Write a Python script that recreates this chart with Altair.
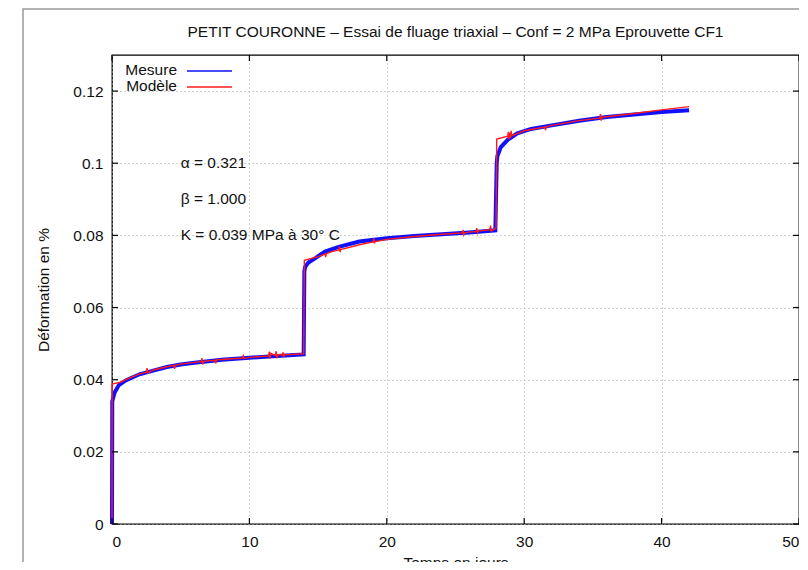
import altair as alt
import pandas as pd

# ---------------- data ----------------
mesure_t = [0, 0.02, 0.2, 0.5, 1, 2, 3, 4, 5, 6, 8, 10, 12, 13.95,
            14.0, 14.05, 14.3, 14.8, 15.5, 16.5, 18, 20, 22, 24, 26, 27.9,
            28.0, 28.05, 28.3, 28.8, 29.5, 30.5, 32, 34, 36, 38, 40, 42]
mesure_v = [0, 0.0340, 0.0365, 0.0385, 0.0398, 0.0415, 0.0425, 0.0435, 0.0442, 0.0447, 0.0455, 0.0461, 0.0466, 0.0470,
            0.0700, 0.0712, 0.0725, 0.0737, 0.0755, 0.0768, 0.0783, 0.0792, 0.0798, 0.0803, 0.0808, 0.0814,
            0.1000, 0.1020, 0.1045, 0.1065, 0.1083, 0.1095, 0.1105, 0.1118, 0.1128, 0.1135, 0.1142, 0.1147]

modele_t = [0, 0.01, 0.6, 1.0, 2.0, 2.5, 2.55, 2.6, 3.0, 4.0, 4.5, 4.55, 4.6, 5.0, 6.0,
            6.5, 6.55, 6.6, 6.65, 7.5, 7.55, 7.6, 8.0, 9.5, 9.55, 9.6, 10.0,
            11.4, 11.45, 11.5, 11.55, 11.9, 11.95, 12.0, 12.05, 12.4, 12.45, 12.5, 12.55, 13.95,
            14.0, 15.0, 15.5, 15.55, 15.6, 16.0, 16.5, 16.55, 16.6, 16.65, 18.0,
            19.0, 19.05, 19.1, 19.15, 20.0, 22.0, 24.0, 25.5, 25.55, 25.6, 25.65, 26.0,
            26.5, 26.55, 26.6, 26.65, 27.5, 27.55, 27.6, 27.95,
            28.0, 28.8, 28.85, 28.9, 28.95, 29.0, 29.05, 29.1, 30.0, 31.5, 31.55, 31.6, 32.0,
            34.0, 35.5, 35.55, 35.6, 35.65, 36.0, 38.0, 40.0, 42.0]
modele_v = [0, 0.0388, 0.0393, 0.0400, 0.0416, 0.0421, 0.0432, 0.0419, 0.0427, 0.0436, 0.0440, 0.0430, 0.0440, 0.0443, 0.0448,
            0.0450, 0.0460, 0.0442, 0.0451, 0.0454, 0.0445, 0.0455, 0.0456, 0.0460, 0.0466, 0.0459, 0.0462,
            0.0466, 0.0478, 0.0458, 0.0473, 0.0467, 0.0479, 0.0459, 0.0470, 0.0468, 0.0476, 0.0463, 0.0469, 0.0472,
            0.0731, 0.0741, 0.0748, 0.0740, 0.0749, 0.0755, 0.0760, 0.0769, 0.0754, 0.0761, 0.0774,
            0.0782, 0.0792, 0.0778, 0.0783, 0.0789, 0.0797, 0.0803, 0.0807, 0.0815, 0.0802, 0.0807, 0.0809,
            0.0811, 0.0820, 0.0807, 0.0812, 0.0816, 0.0827, 0.0812, 0.0820,
            0.1067, 0.1075, 0.1087, 0.1066, 0.1084, 0.1070, 0.1090, 0.1076, 0.1090, 0.1100, 0.1092, 0.1101, 0.1105,
            0.1118, 0.1125, 0.1136, 0.1118, 0.1127, 0.1129, 0.1138, 0.1148, 0.1157]

x_ticks = [0, 10, 20, 30, 40, 50]
y_ticks = [0, 0.02, 0.04, 0.06, 0.08, 0.1, 0.12]

ann_x = [5, 5, 5]
ann_y = [0.1, 0.09, 0.08]
ann_text = ["α = 0.321", "β = 1.000", "K = 0.039 MPa à 30° C"]

legend_labels = ["Mesure", "Modèle"]
title_text = "PETIT COURONNE – Essai de fluage triaxial – Conf = 2 MPa Eprouvette CF1"

FONT = "Liberation Sans"
FS = 15.5
W, H = 687, 469

df_m = pd.DataFrame({"t": mesure_t, "v": mesure_v})
df_r = pd.DataFrame({"t": modele_t, "v": modele_v})
df_ann = pd.DataFrame({"t": ann_x, "v": ann_y, "txt": ann_text})
df_xt = pd.DataFrame({"t": x_ticks})
df_yt = pd.DataFrame({"v": y_ticks})
one = pd.DataFrame({"a": [0]})

xs = alt.Scale(domain=[0, 50], nice=False, zero=False)
ys = alt.Scale(domain=[0, 0.13], nice=False, zero=False)

X = alt.X("t:Q", scale=xs, axis=alt.Axis(values=x_ticks, title="Temps en jours", grid=True,
                                         ticks=False, domain=False, labelPadding=10,
                                         titlePadding=6, format="~g"))
Y = alt.Y("v:Q", scale=ys, axis=alt.Axis(values=y_ticks, title="Déformation en %", grid=True,
                                         ticks=False, domain=False, labelPadding=9,
                                         titlePadding=21, format="~g"))

mesure = alt.Chart(df_m).mark_line(color="#1010ff", strokeWidth=4).encode(x=X, y=Y)
modele = alt.Chart(df_r).mark_line(color="#ff1a1a", strokeWidth=1.4).encode(
    x=alt.X("t:Q", scale=xs), y=alt.Y("v:Q", scale=ys))

ann = alt.Chart(df_ann).mark_text(align="left", baseline="middle", font=FONT, fontSize=FS,
                                  color="#111").encode(
    x=alt.X("t:Q", scale=xs), y=alt.Y("v:Q", scale=ys), text="txt:N")

# inward tick marks (gnuplot style, mirrored)
xt_b = alt.Chart(df_xt).mark_rule(color="#000", strokeWidth=1.2).encode(
    x=alt.X("t:Q", scale=xs), y=alt.value(H), y2=alt.value(H - 6))
xt_t = alt.Chart(df_xt).mark_rule(color="#000", strokeWidth=1.2).encode(
    x=alt.X("t:Q", scale=xs), y=alt.value(0), y2=alt.value(6))
yt_l = alt.Chart(df_yt).mark_rule(color="#000", strokeWidth=1.2).encode(
    y=alt.Y("v:Q", scale=ys), x=alt.value(0), x2=alt.value(6))
yt_r = alt.Chart(df_yt).mark_rule(color="#000", strokeWidth=1.2).encode(
    y=alt.Y("v:Q", scale=ys), x=alt.value(W), x2=alt.value(W - 6))

# custom gnuplot-style key
leg1 = alt.Chart(one).mark_text(text=legend_labels[0], align="right", baseline="middle",
                                font=FONT, fontSize=FS, color="#111").encode(
    x=alt.value(65), y=alt.value(15))
leg2 = alt.Chart(one).mark_text(text=legend_labels[1], align="right", baseline="middle",
                                font=FONT, fontSize=FS, color="#111").encode(
    x=alt.value(65), y=alt.value(31))
legl1 = alt.Chart(one).mark_rule(color="#1010ff", strokeWidth=1.4).encode(
    x=alt.value(75), x2=alt.value(120), y=alt.value(16))
legl2 = alt.Chart(one).mark_rule(color="#ff1a1a", strokeWidth=1.4).encode(
    x=alt.value(75), x2=alt.value(120), y=alt.value(32))

title = alt.Chart(one).mark_text(text=title_text, align="center", baseline="middle",
                                 font=FONT, fontSize=FS, color="#111").encode(
    x=alt.value(W / 2), y=alt.value(-23))

frame = alt.Chart(one).mark_rect(fillOpacity=0, stroke="#999", strokeWidth=1.5).encode(
    x=alt.value(-89), x2=alt.value(W + 40), y=alt.value(-46), y2=alt.value(H + 60))

chart = alt.layer(frame, mesure, modele, ann, xt_b, xt_t, yt_l, yt_r,
                  leg1, leg2, legl1, legl2, title).properties(
    width=W, height=H,
    autosize=alt.AutoSizeParams(type="none"),
    padding={"left": 104, "top": 47, "right": 0, "bottom": 38},
    background="white",
).configure_view(stroke="#000", strokeWidth=1.3).configure_axis(
    labelFont=FONT, labelFontSize=FS, labelColor="#111",
    titleFont=FONT, titleFontSize=FS, titleFontWeight="normal", titleColor="#111",
    gridColor="#aaa", gridDash=[1, 3], gridWidth=1, gridOpacity=1,
)

chart.save("out.html", embed_options={"renderer": "svg", "actions": False})
